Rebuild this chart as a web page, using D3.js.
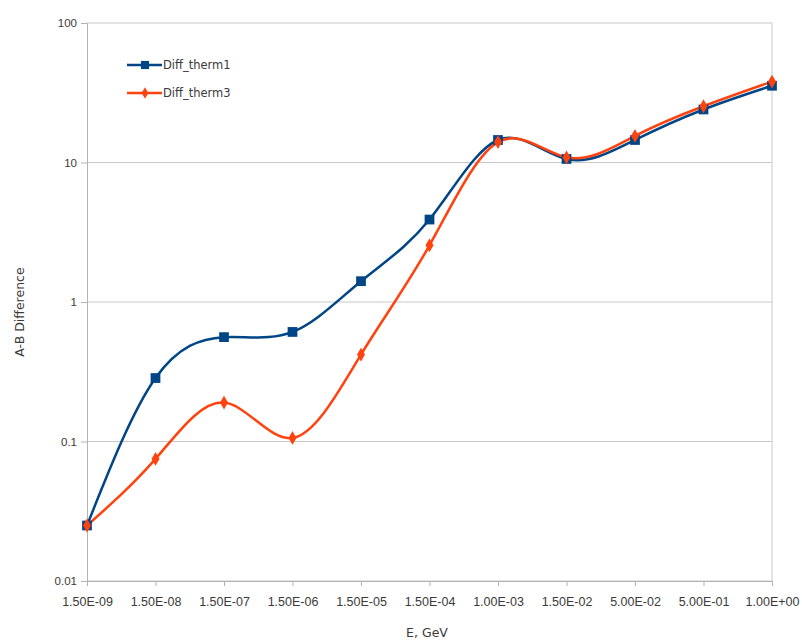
<!DOCTYPE html>
<html>
<head>
<meta charset="utf-8">
<script src="https://cdn.jsdelivr.net/npm/d3@7/dist/d3.min.js"></script>
<style>
  html, body { margin: 0; padding: 0; background: #fff; }
  svg { display: block; font-family: "DejaVu Sans", sans-serif; }
</style>
</head>
<body>
<svg id="chart" width="802" height="642"></svg>
<script>
// Energy bins (category axis)
const energies = ["1.50E-09", "1.50E-08", "1.50E-07", "1.50E-06", "1.50E-05", "1.50E-04",
                  "1.00E-03", "1.50E-02", "5.00E-02", "5.00E-01", "1.00E+00"];
// A-B difference per bin
const diffTherm1 = [0.025, 0.285, 0.56, 0.61, 1.41, 3.9, 14.5, 10.6, 14.5, 24.0, 35.5];
const diffTherm3 = [0.025, 0.075, 0.19, 0.106, 0.42, 2.55, 14.0, 10.9, 15.5, 25.3, 38.0];
// Y axis ticks
const yTicks = [0.01, 0.1, 1, 10, 100];
const yTickLabels = ["0.01", "0.1", "1", "10", "100"];
const seriesNames = ["Diff_therm1", "Diff_therm3"];

const svg = d3.select("#chart");
const margin = { left: 87, right: 30, top: 23, bottom: 61 };
const W = 802, H = 642;
const x0 = margin.left, x1 = W - margin.right, y0 = margin.top, y1 = H - margin.bottom;

const x = d3.scalePoint().domain(energies).range([x0, x1]).padding(0);
const y = d3.scaleLog().domain([0.01, 100]).range([y1, y0]);

const textCol = "#3a3a3a";

// horizontal gridlines
svg.append("g").selectAll("line").data(yTicks).join("line")
  .attr("x1", x0).attr("x2", x1)
  .attr("y1", d => y(d)).attr("y2", d => y(d))
  .attr("stroke", "#c8c8c8").attr("stroke-width", 1);

// right border
svg.append("line").attr("x1", x1).attr("x2", x1).attr("y1", y0).attr("y2", y1)
  .attr("stroke", "#c8c8c8");

// Y axis
const yAxis = d3.axisLeft(y).tickValues(yTicks)
  .tickFormat((d, i) => yTickLabels[i]).tickSize(6).tickPadding(4);
const gy = svg.append("g").attr("transform", `translate(${x0},0)`).call(yAxis);
gy.select(".domain").attr("stroke", "#b3b3b3");
gy.selectAll(".tick line").attr("stroke", "#b3b3b3");
gy.selectAll("text").attr("fill", textCol).style("font-size", "11.5px");

// X axis
const xAxis = d3.axisBottom(x).tickSize(5).tickPadding(11);
const gx = svg.append("g").attr("transform", `translate(0,${y1})`).call(xAxis);
gx.select(".domain").attr("stroke", "#b3b3b3");
gx.selectAll(".tick line").attr("stroke", "#b3b3b3");
gx.selectAll("text").attr("fill", textCol).style("font-size", "12.5px");

// axis titles
svg.append("text").attr("x", 427).attr("y", 637).attr("text-anchor", "middle")
  .attr("fill", textCol).style("font-size", "12.5px").text("E, GeV");
svg.append("text").attr("transform", "translate(24,312) rotate(-90)")
  .attr("text-anchor", "middle").attr("fill", textCol).style("font-size", "12.5px")
  .text("A-B Difference");

const colors = ["#004586", "#ff420e"];
const line = d3.line().x((d, i) => x(energies[i])).y(d => y(d)).curve(d3.curveNatural);

const series = [diffTherm1, diffTherm3];
const symbols = [d3.symbolSquare, d3.symbolDiamond];
const symSizes = [95, 55];

series.forEach((vals, s) => {
  svg.append("path").datum(vals).attr("d", line)
    .attr("fill", "none").attr("stroke", colors[s]).attr("stroke-width", 2.5);
});
series.forEach((vals, s) => {
  svg.append("g").selectAll("path").data(vals).join("path")
    .attr("transform", (d, i) => `translate(${x(energies[i])},${y(d)})`)
    .attr("d", d3.symbol().type(symbols[s]).size(symSizes[s]))
    .attr("fill", colors[s]);
});

// legend
const legend = svg.append("g");
seriesNames.forEach((name, s) => {
  const ly = 65 + s * 28;
  legend.append("line").attr("x1", 127).attr("x2", 162).attr("y1", ly).attr("y2", ly)
    .attr("stroke", colors[s]).attr("stroke-width", 2.5);
  legend.append("path").attr("transform", `translate(145,${ly})`)
    .attr("d", d3.symbol().type(symbols[s]).size(symSizes[s] * 0.7)).attr("fill", colors[s]);
  legend.append("text").attr("x", 163).attr("y", ly + 4).attr("fill", textCol)
    .style("font-size", "11.5px").text(name);
});
</script>
</body>
</html>
